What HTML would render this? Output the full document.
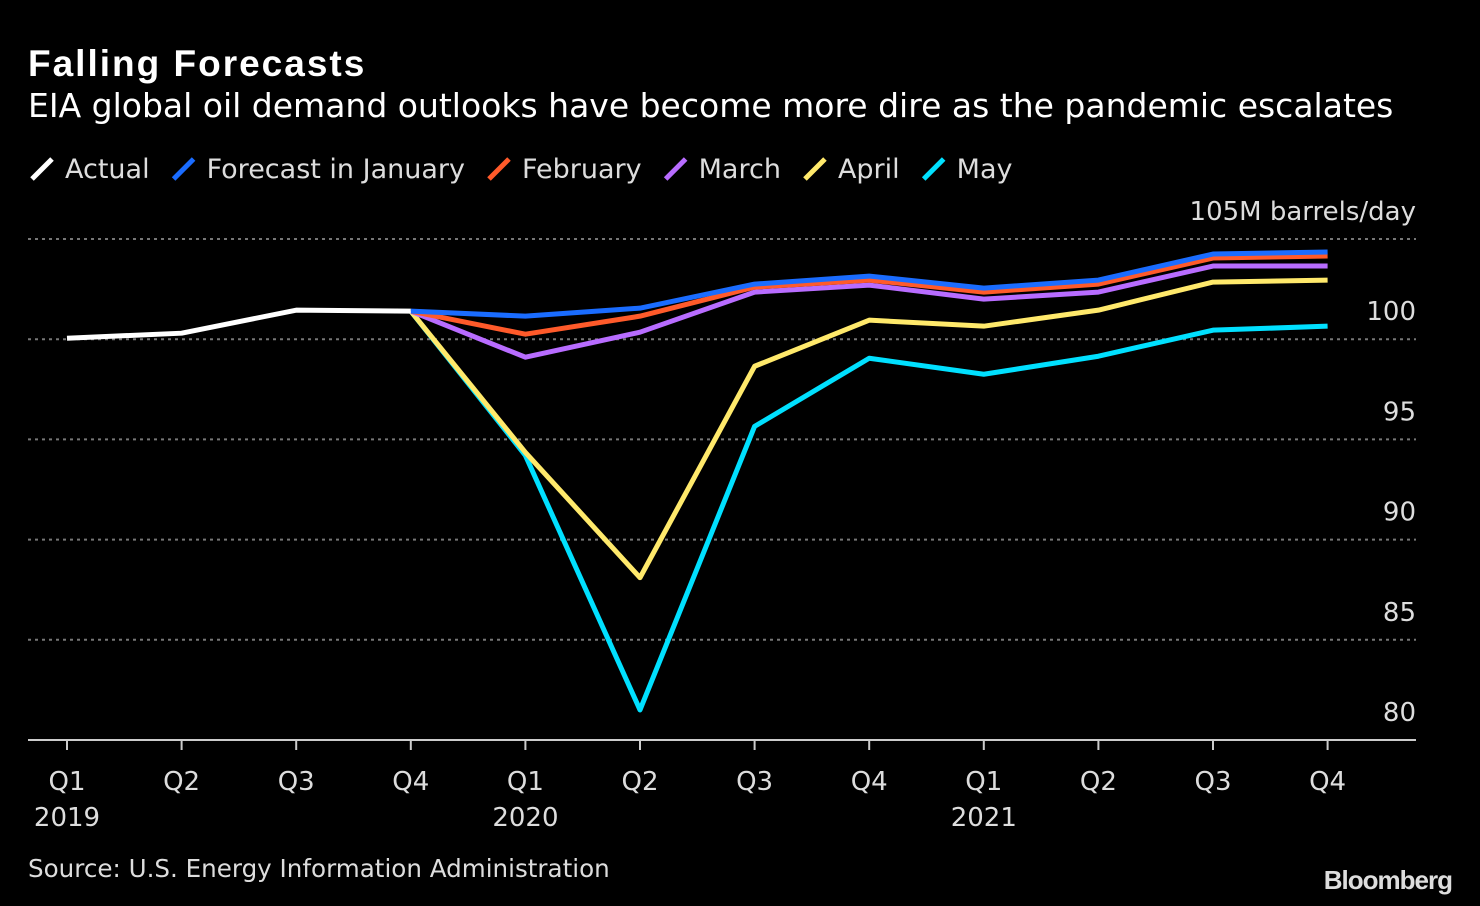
<!DOCTYPE html>
<html><head><meta charset="utf-8">
<style>
html,body{margin:0;padding:0;background:#000;width:1480px;height:906px;overflow:hidden}
svg{display:block;font-family:"DejaVu Sans","Liberation Sans",sans-serif}
</style></head>
<body>
<svg id="chart" width="1480" height="906" viewBox="0 0 1480 906">
<text x="28" y="76" fill="#fff" font-size="37" font-weight="bold" letter-spacing="2" font-family="Liberation Sans, sans-serif">Falling Forecasts</text>
<text x="28" y="117" fill="#fff" font-size="33">EIA global oil demand outlooks have become more dire as the pandemic escalates</text>
<g id="legend"></g>
<g id="grid"></g>
<g id="xaxis"></g>
<g id="series"></g>
<text x="28" y="877" fill="#ddd" font-size="24.6">Source: U.S. Energy Information Administration</text>
<text x="1452" y="889" fill="#ddd" font-size="26" font-weight="bold" text-anchor="end" font-family="Liberation Sans, sans-serif" letter-spacing="-1">Bloomberg</text>
</svg>
<script>
const quarters = ["Q1","Q2","Q3","Q4","Q1","Q2","Q3","Q4","Q1","Q2","Q3","Q4"];
const years = ["2019","","","","2020","","","","2021","","",""];
const yTicks = [80,85,90,95,100,105];
const yTickLabels = ["80","85","90","95","100","105M barrels/day"];
const actual = [100.05,100.3,101.45,101.4,null,null,null,null,null,null,null,null];
const january = [null,null,null,101.4,101.15,101.55,102.75,103.15,102.55,102.95,104.25,104.35];
const february = [null,null,null,101.4,100.25,101.15,102.6,102.95,102.35,102.75,104.05,104.15];
const march = [null,null,null,101.4,99.1,100.35,102.35,102.7,102.0,102.35,103.65,103.65];
const april = [null,null,null,101.4,94.35,88.1,98.65,100.95,100.65,101.45,102.85,102.95];
const may = [null,null,null,101.4,94.2,81.5,95.65,99.05,98.25,99.15,100.45,100.65];
const seriesNames = ["Actual","Forecast in January","February","March","April","May"];
const seriesColors = ["#ffffff","#1a6cff","#ff5a2a","#b86cff","#ffe96b","#00e0ff"];
const seriesData = [actual,january,february,march,april,may];

const NS="http://www.w3.org/2000/svg";
const x = i => 67 + i*114.6;
const y = v => 740 - (v-80)*20.04;
function mk(tag, attrs, parent){const e=document.createElementNS(NS,tag);for(const k in attrs)e.setAttribute(k,attrs[k]);parent.appendChild(e);return e;}

const grid=document.getElementById('grid');
yTicks.forEach((t,i)=>{
  if(t>80){
    const l=mk('line',{x1:28,x2:1416,y1:y(t),y2:y(t),stroke:'#777','stroke-width':2,'stroke-dasharray':'3,4'},grid);
    
    
  }
  const tx=mk('text',{x:1416,y:y(t)-19,fill:'#ddd','font-size':26,'text-anchor':'end'},grid);
  tx.textContent=yTickLabels[i];
  
  
});
const xa=document.getElementById('xaxis');
const ax=mk('line',{x1:28,x2:1416,y1:740,y2:740,stroke:'#ccc','stroke-width':2},xa);


quarters.forEach((q,i)=>{
  const tk=mk('line',{x1:x(i),x2:x(i),y1:740,y2:750,stroke:'#ccc','stroke-width':2},xa);
  
  
  const t=mk('text',{x:x(i),y:790,fill:'#ddd','font-size':26,'text-anchor':'middle'},xa);
  t.textContent=q;
  
  
  if(years[i]){
    const yt=mk('text',{x:x(i),y:826,fill:'#ddd','font-size':26,'text-anchor':'middle'},xa);
    yt.textContent=years[i];
    
    
  }
});
const sg=document.getElementById('series');
for(let s=seriesData.length-1;s>=0;s--){
  const pts=[];
  seriesData[s].forEach((v,i)=>{if(v!==null)pts.push(x(i)+','+y(v));});
  const p=mk('polyline',{points:pts.join(' '),fill:'none',stroke:seriesColors[s],'stroke-width':5,'stroke-linejoin':'round'},sg);
  
  
}
const lg=document.getElementById('legend');
let lx=32;
seriesNames.forEach((n,i)=>{
  const g=mk('g',{},lg);
  
  
  mk('line',{x1:lx,y1:179,x2:lx+20,y2:159,stroke:seriesColors[i],'stroke-width':5},g);
  const t=mk('text',{x:lx+33,y:178,fill:'#ddd','font-size':27},g);
  t.textContent=n;
  lx += 33 + t.getComputedTextLength() + 24;
});
</script>
</body></html>
